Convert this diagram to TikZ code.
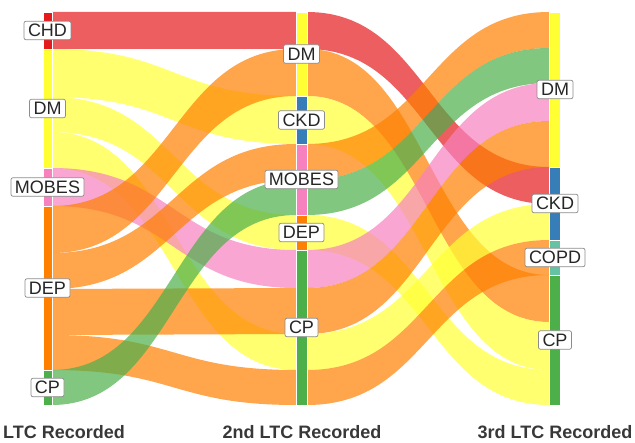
\documentclass[tikz,border=0pt]{standalone}
\usepackage{fontspec}
\setmainfont{Liberation Sans}
\definecolor{cRed}{HTML}{E41A1C}
\definecolor{cYel}{HTML}{FFFF33}
\definecolor{cPink}{HTML}{F781BF}
\definecolor{cOra}{HTML}{FF7F00}
\definecolor{cGrn}{HTML}{4DAF4A}
\definecolor{cBlue}{HTML}{377EB8}
\definecolor{cTeal}{HTML}{66C2A5}
\newcommand\flowband[7]{%
  \pgfmathsetmacro\xmidpt{(#2+#5)/2}%
  \fill[#1, flowfill] (#2,#3) .. controls (\xmidpt,#3) and (\xmidpt,#6) .. (#5,#6)
    -- (#5,#7) .. controls (\xmidpt,#7) and (\xmidpt,#4) .. (#2,#4) -- cycle;}
\begin{document}
\begin{tikzpicture}[x=1pt,y=-1pt,
  flowfill/.style={fill opacity=0.7},
  stratumbar/.style={draw=white, line width=0.4pt},
  lab/.style={draw=black!45, fill=white, rounded corners=2pt, line width=0.7pt,
    font=\fontsize{18}{18}\selectfont, text=black!85, inner xsep=4pt, inner ysep=3pt,
    text height=12.5pt, text depth=0pt},
  ttl/.style={font=\fontsize{18}{18}\selectfont\bfseries, text=black!78, inner sep=0pt}]
\useasboundingbox (0,0) rectangle (635,443);
% segment 1 flows (axis 1 -> axis 2)
\flowband{cRed}{52}{12}{49}{296}{12}{49}
\flowband{cYel}{52}{49}{97}{296}{96}{144}
\flowband{cYel}{52}{97}{132}{296}{215}{250}
\flowband{cYel}{52}{132}{168}{296}{334}{370}
\flowband{cPink}{52}{168}{206}{296}{250}{288}
\flowband{cOra}{52}{206}{253}{296}{49}{96}
\flowband{cOra}{52}{253}{289}{296}{144}{180}
\flowband{cOra}{52}{289}{335}{296}{288}{334}
\flowband{cOra}{52}{335}{370}{296}{370}{405}
\flowband{cGrn}{52}{370}{405}{296}{180}{215}
% segment 2 flows (axis 2 -> axis 3)
\flowband{cRed}{307}{12}{49}{549}{167}{204}
\flowband{cOra}{307}{49}{96}{549}{275}{322}
\flowband{cYel}{307}{96}{144}{549}{322}{370}
\flowband{cOra}{307}{144}{180}{549}{12}{48}
\flowband{cGrn}{307}{180}{215}{549}{48}{83}
\flowband{cYel}{307}{215}{250}{549}{370}{405}
\flowband{cPink}{307}{250}{288}{549}{83}{121}
\flowband{cOra}{307}{288}{334}{549}{121}{167}
\flowband{cYel}{307}{334}{370}{549}{204}{240}
\flowband{cOra}{307}{370}{405}{549}{240}{275}
% strata axis 1
\filldraw[stratumbar, fill=cRed] (43,12) rectangle (52,49);
\filldraw[stratumbar, fill=cYel] (43,49) rectangle (52,168);
\filldraw[stratumbar, fill=cPink] (43,168) rectangle (52,206);
\filldraw[stratumbar, fill=cOra] (43,206) rectangle (52,370);
\filldraw[stratumbar, fill=cGrn] (43,370) rectangle (52,405);
% strata axis 2
\filldraw[stratumbar, fill=cYel] (296,12) rectangle (307,96);
\filldraw[stratumbar, fill=cBlue] (296,96) rectangle (307,144);
\filldraw[stratumbar, fill=cPink] (296,144) rectangle (307,215);
\filldraw[stratumbar, fill=cOra] (296,215) rectangle (307,250);
\filldraw[stratumbar, fill=cGrn] (296,250) rectangle (307,405);
% strata axis 3
\filldraw[stratumbar, fill=cYel] (549,12) rectangle (560,167);
\filldraw[stratumbar, fill=cBlue] (549,167) rectangle (560,240);
\filldraw[stratumbar, fill=cTeal] (549,240) rectangle (560,275);
\filldraw[stratumbar, fill=cGrn] (549,275) rectangle (560,405);
% labels
\node[lab] (chd1) at (47.5,30.5) {CHD};
\node[lab] (dm1) at (47.5,108.5) {DM};
\node[lab] (mobes1) at (47.5,187) {MOBES};
\node[lab] (dep1) at (47.5,288) {DEP};
\node[lab] (cp1) at (47.5,387.5) {CP};
\node[lab] (dm2) at (301.5,54) {DM};
\node[lab] (ckd2) at (301.5,120) {CKD};
\node[lab] (mobes2) at (301.5,179.5) {MOBES};
\node[lab] (dep2) at (301.5,232.5) {DEP};
\node[lab] (cp2) at (301.5,327.5) {CP};
\node[lab] (dm3) at (555,89.5) {DM};
\node[lab] (ckd3) at (555,203.5) {CKD};
\node[lab] (copd3) at (555,257.5) {COPD};
\node[lab] (cp3) at (555,340) {CP};
% axis titles
\node[ttl, anchor=base west] (t1) at (3,439) {LTC Recorded};
\node[ttl, anchor=base] (t2) at (302,439) {2nd LTC Recorded};
\node[ttl, anchor=base] (t3) at (555,439) {3rd LTC Recorded};
\end{tikzpicture}
\end{document}
